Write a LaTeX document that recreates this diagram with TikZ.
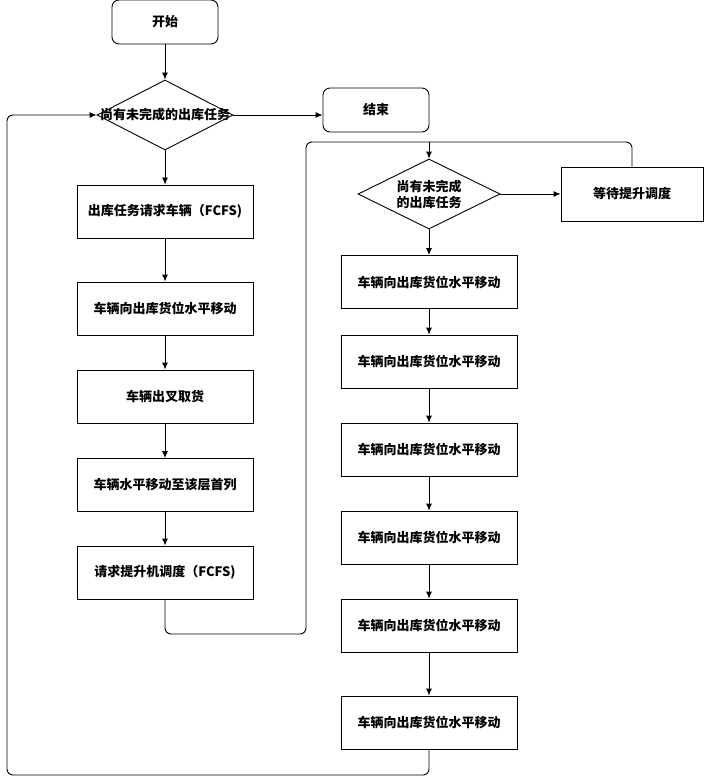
\documentclass[tikz,border=0pt]{standalone}
\usepackage{fontspec}
\setmainfont{Noto Sans CJK SC}
\usetikzlibrary{shapes.geometric,arrows.meta}
\tikzset{
  txt/.style={font=\fontsize{13}{16}\selectfont\bfseries},
  box/.style={draw, line width=0.9pt, minimum width=176pt, minimum height=53pt, inner sep=0pt, txt},
  term/.style={draw, line width=0.9pt, rounded corners=7pt, minimum width=106pt, minimum height=44pt, inner sep=0pt, txt},
  dia/.style={draw, diamond, line width=0.9pt, inner sep=0pt, minimum width=142pt, minimum height=70pt},
  arr/.style={draw, line width=0.9pt, -{Latex[length=7pt,width=6pt]}},
  ln/.style={draw, line width=0.9pt, rounded corners=6pt},
}
\begin{document}
\begin{tikzpicture}[x=1pt,y=-1pt]
\useasboundingbox (0,0) rectangle (703,783);
% left column
\node[term] (start) at (165,22) {开始};
\node[dia, minimum width=136pt] (d1) at (165,115) {};
\node[txt, inner sep=0pt] (d1t) at (165,115) {尚有未完成的出库任务};
\node[term] (end) at (376,110) {结束};
\node[box] (L1) at (165,211.5) {出库任务请求车辆（FCFS)};
\node[box] (L2) at (165,308.5) {车辆向出库货位水平移动};
\node[box] (L3) at (165,396.5) {车辆出叉取货};
\node[box] (L4) at (165,485) {车辆水平移动至该层首列};
\node[box] (L5) at (165,572.5) {请求提升机调度（FCFS)};
% right column
\node[dia] (d2) at (429,194) {};
\node[txt, inner sep=0pt, align=center] (d2t) at (429,194) {尚有未完成\\的出库任务};
\node[box, minimum width=142pt, minimum height=54pt] (wait) at (632,194) {等待提升调度};
\node[box] (R1) at (429,282) {车辆向出库货位水平移动};
\node[box] (R2) at (429,361.5) {车辆向出库货位水平移动};
\node[box] (R3) at (429,449.5) {车辆向出库货位水平移动};
\node[box] (R4) at (429,537.5) {车辆向出库货位水平移动};
\node[box] (R5) at (429,625.5) {车辆向出库货位水平移动};
\node[box] (R6) at (429,722.5) {车辆向出库货位水平移动};
% helper coordinates
\coordinate (c1) at (165,634);
\coordinate (c2) at (306,634);
\coordinate (c3) at (306,142);
\coordinate (c4) at (429,142);
\coordinate (c5) at (632,142);
\coordinate (c6) at (429,775);
\coordinate (c7) at (7,775);
\coordinate (c8) at (7,115);
% connectors
\draw[arr] (start) -- (d1);
\draw[arr] (d1.east) -- (d1.east -| end.west);
\draw[arr] (d1) -- (L1);
\draw[arr] (L1) -- (L2);
\draw[arr] (L2) -- (L3);
\draw[arr] (L3) -- (L4);
\draw[arr] (L4) -- (L5);
\draw[ln] (L5.south) -- (c1) -- (c2) -- (c3) -- (c4);
\draw[ln] (wait.north) -- (c5) -- (c4);
\draw[arr] (c4) -- (d2.north);
\draw[arr] (d2) -- (wait);
\draw[arr] (d2) -- (R1);
\draw[arr] (R1) -- (R2);
\draw[arr] (R2) -- (R3);
\draw[arr] (R3) -- (R4);
\draw[arr] (R4) -- (R5);
\draw[arr] (R5) -- (R6);
\draw[ln, -{Latex[length=7pt,width=6pt]}] (R6.south) -- (c6) -- (c7) -- (c8) -- (d1.west);
\end{tikzpicture}
\end{document}
